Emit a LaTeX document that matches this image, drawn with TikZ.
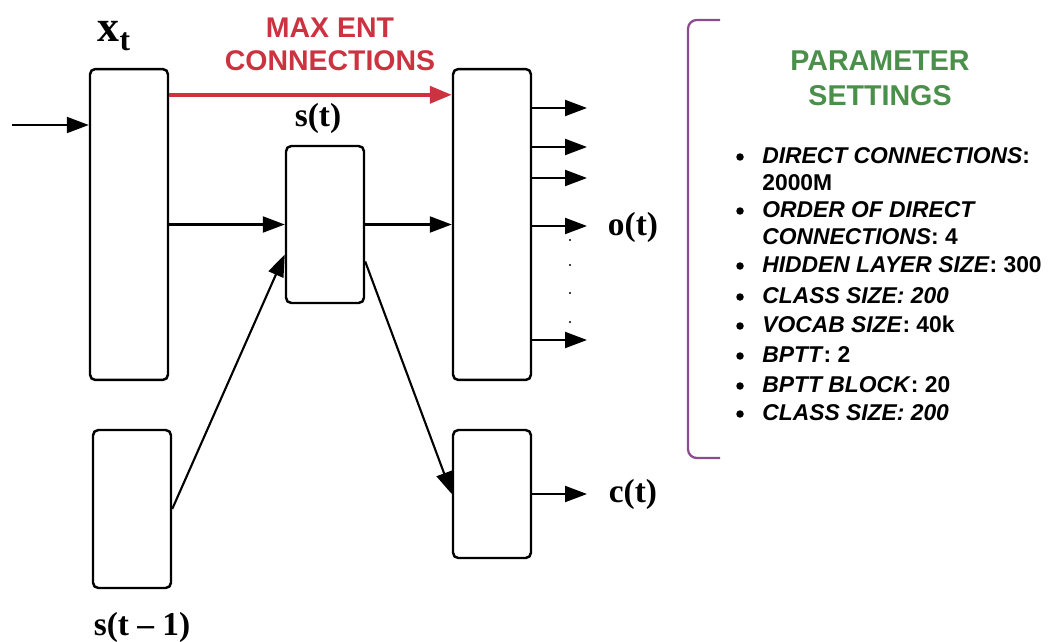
\documentclass[tikz,border=0pt]{standalone}
\usepackage{fontspec}
\setmainfont{Liberation Serif}
\setsansfont{Liberation Sans}
\usetikzlibrary{arrows.meta,positioning,calc}

\definecolor{maxred}{RGB}{204,51,64}
\definecolor{setgreen}{RGB}{74,143,74}
\definecolor{bracepurple}{RGB}{139,76,143}

\begin{document}
\begin{tikzpicture}[
    x=0.02cm, y=-0.02cm,
    layer/.style={draw, line width=1.4pt, rounded corners=3pt, minimum width=1.56cm, inner sep=0pt},
    link/.style={-{Triangle[length=4.4mm, width=3.2mm]}, line width=1.2pt},
    maxlink/.style={-{Triangle[length=4.4mm, width=3.4mm]}, line width=2.2pt, draw=maxred, fill=maxred},
    lbl/.style={font=\fontsize{19}{21}\selectfont\bfseries},
    head/.style={font=\sffamily\bfseries\fontsize{16.3}{19.8}\selectfont, text=setgreen, align=center},
    item/.style={anchor=west, inner sep=0pt, text height=11pt, text depth=2.5pt, font=\sffamily\bfseries\fontsize{13}{15}\selectfont},
    bul/.style={circle, fill, inner sep=0pt, minimum size=0.15cm},
    dot/.style={circle, fill, inner sep=0pt, minimum size=1.3pt}
]
\useasboundingbox (0,0) rectangle (1048,642);

% layers
\node[layer, minimum height=6.22cm] (x) at (129,224.5) {};
\node[layer, minimum height=3.14cm] (s) at (325,224.5) {};
\node[layer, minimum height=6.22cm] (o) at (492,224.5) {};
\node[layer, minimum height=3.16cm] (sp) at (132,509) {};
\node[layer, minimum height=2.56cm] (c) at (492,494) {};

% labels
\node[lbl, font=\bfseries\fontsize{25}{27}\selectfont] (xlbl) at (114,36) {x\raisebox{-.45ex}{\fontsize{18}{19}\selectfont t}};
\node[lbl] (slbl) at (318,118) {s(t)};
\node[lbl] (olbl) at (633,227) {o(t)};
\node[lbl] (clbl) at (633,494) {c(t)};
\node[lbl] (splbl) at (142,627) {s(t -- 1)};
\node[font=\sffamily\bfseries\fontsize{16.2}{18.7}\selectfont, text=maxred, align=center] (maxent) at (330,44) {MAX ENT\\CONNECTIONS};

% connections
\coordinate (in) at (12,125);
\draw[link] (in) -- (x.west |- in);
\draw[maxlink] ($(x.north east)+(0,27)$) -- ($(o.north west)+(0,27)$);
\draw[link] (s.west -| x.east) -- (s.west);
\draw[link] (s.east) -- (s.east -| o.west);
\draw[link] (sp.east) -- ($(s.west)+(0,30)$);
\draw[link] ($(s.east)+(0,37)$) -- (c.west);

% outputs
\coordinate (y1) at (587,108);
\coordinate (y2) at (587,147);
\coordinate (y3) at (587,178);
\coordinate (y4) at (587,226);
\coordinate (y5) at (587,340);
\coordinate (cout) at (587,494);
\draw[link] (o.east |- y1) -- (y1);
\draw[link] (o.east |- y2) -- (y2);
\draw[link] (o.east |- y3) -- (y3);
\draw[link] (o.east |- y4) -- (y4);
\draw[link] (o.east |- y5) -- (y5);
\draw[link] (c.east) -- (cout);
\foreach \yy in {240,265,293,322}
    \node[dot] at (570,\yy) {};

% parameter settings
\draw[bracepurple, line width=1.3pt, rounded corners=5pt] (720,20) -- (688,20) -- (688,458) -- (720,458);
\node[head] (params) at (880,78) {PARAMETER\\SETTINGS};
\foreach \yy in {157,211,266,297,326,356,386,414}
    \node[bul] at (740,\yy) {};
\node[item] at (762,156) {\textit{DIRECT CONNECTIONS}:};
\node[item] at (762,183) {2000M};
\node[item] at (762,210) {\textit{ORDER OF DIRECT}};
\node[item] at (762,237) {\textit{CONNECTIONS}: 4};
\node[item] at (762,265) {\textit{HIDDEN LAYER SIZE}: 300};
\node[item] at (762,296) {\textit{CLASS SIZE: 200}};
\node[item] at (762,325) {\textit{VOCAB SIZE}: 40k};
\node[item] at (762,355) {\textit{BPTT}: 2};
\node[item] at (762,385) {\textit{BPTT BLOCK}: 20};
\node[item] at (762,413) {\textit{CLASS SIZE: 200}};
\end{tikzpicture}
\end{document}
